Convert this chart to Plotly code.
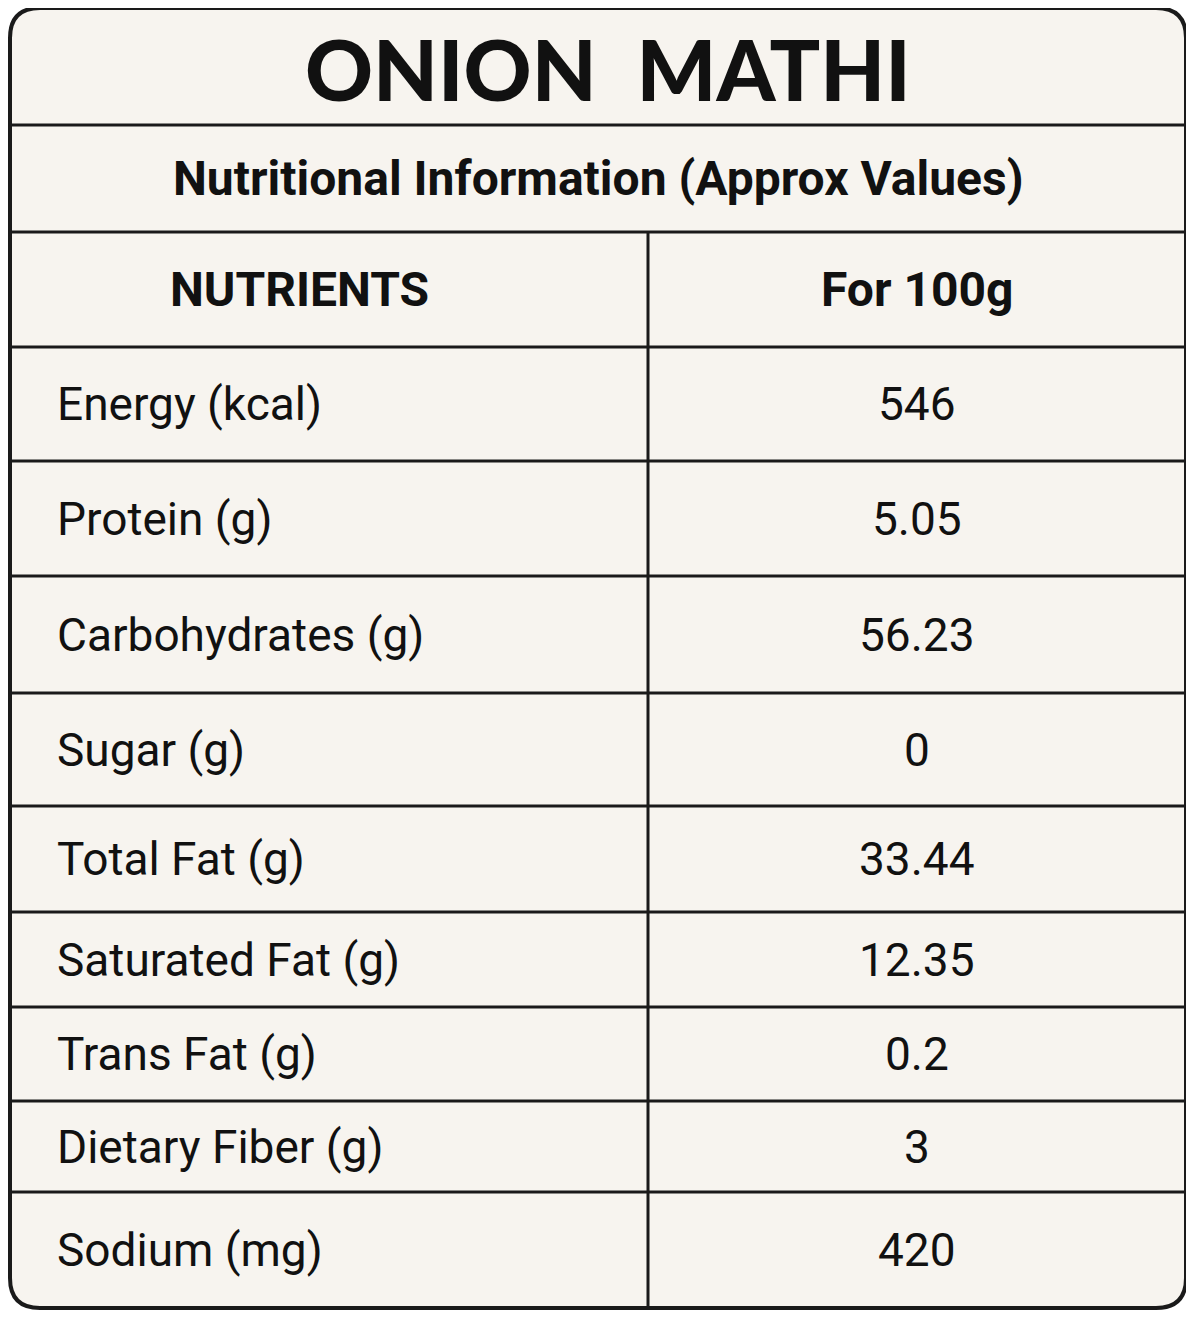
import plotly.graph_objects as go

title = "ONION  MATHI"
subtitle = "Nutritional Information (Approx Values)"
headers = ["NUTRIENTS", "For 100g"]
nutrients = ["Energy (kcal)", "Protein (g)", "Carbohydrates (g)", "Sugar (g)", "Total Fat (g)",
             "Saturated Fat (g)", "Trans Fat (g)", "Dietary Fiber (g)", "Sodium (mg)"]
values = ["546", "5.05", "56.23", "0", "33.44", "12.35", "0.2", "3", "420"]

off = 8  # page body margin
W, H = 1194 - off, 1317 - off
left, right, top, bottom, mid = 10 - off, 1186 - off, 5, 1308 - off, 648 - off
top = 5 - off + 3
lines_y = [y - off for y in [125, 232, 347, 461, 576, 693, 806, 912, 1007, 1101, 1192]]
r = 30
ink = "#1a1a1a"
body_font = "Liberation Sans Narrow, Roboto, sans-serif"

fig = go.Figure()
shapes = []
path = (f"M {left+r},{top} L {right-r},{top} Q {right},{top} {right},{top+r} "
        f"L {right},{bottom-r} Q {right},{bottom} {right-r},{bottom} "
        f"L {left+r},{bottom} Q {left},{bottom} {left},{bottom-r} "
        f"L {left},{top+r} Q {left},{top} {left+r},{top} Z")
shapes.append(dict(type="path", path=path, fillcolor="#f7f4ef", line=dict(color=ink, width=4), layer="below"))
for y in lines_y:
    shapes.append(dict(type="line", x0=left, x1=right, y0=y, y1=y, line=dict(color=ink, width=3)))
shapes.append(dict(type="line", x0=mid, x1=mid, y0=lines_y[1], y1=bottom, line=dict(color=ink, width=3)))

ann = []
ann.append(dict(x=(left + right) / 2 + 10, y=(top + lines_y[0]) / 2 + 2, text=title,
                font=dict(size=84, family="Lato, Inter, sans-serif", color="#111", weight=900),
                showarrow=False))
ann.append(dict(x=(left + right) / 2, y=(lines_y[0] + lines_y[1]) / 2, text=f"<b>{subtitle}</b>",
                font=dict(size=48, family=body_font, color="#111"), showarrow=False))
hy = (lines_y[1] + lines_y[2]) / 2
ann.append(dict(x=(left + mid) / 2 - 30, y=hy, text=f"<b>{headers[0]}</b>",
                font=dict(size=48, family=body_font, color="#111"), showarrow=False))
ann.append(dict(x=(mid + right) / 2, y=hy, text=f"<b>{headers[1]}</b>",
                font=dict(size=48, family=body_font, color="#111"), showarrow=False))
row_edges = lines_y[2:] + [bottom]
for i, (n, v) in enumerate(zip(nutrients, values)):
    cy = (row_edges[i] + row_edges[i + 1]) / 2
    ann.append(dict(x=55 - off, y=cy, text=n, xanchor="left",
                    font=dict(size=46, family=body_font, color="#111"), showarrow=False))
    ann.append(dict(x=(mid + right) / 2, y=cy, text=v,
                    font=dict(size=46, family=body_font, color="#111"), showarrow=False))

fig.update_layout(
    width=W, height=H, margin=dict(l=0, r=0, t=0, b=0),
    paper_bgcolor="white", plot_bgcolor="white",
    xaxis=dict(range=[0, W], visible=False, fixedrange=True),
    yaxis=dict(range=[H, 0], visible=False, fixedrange=True),
    shapes=shapes, annotations=ann, showlegend=False,
)
fig.write_html("out.html")
